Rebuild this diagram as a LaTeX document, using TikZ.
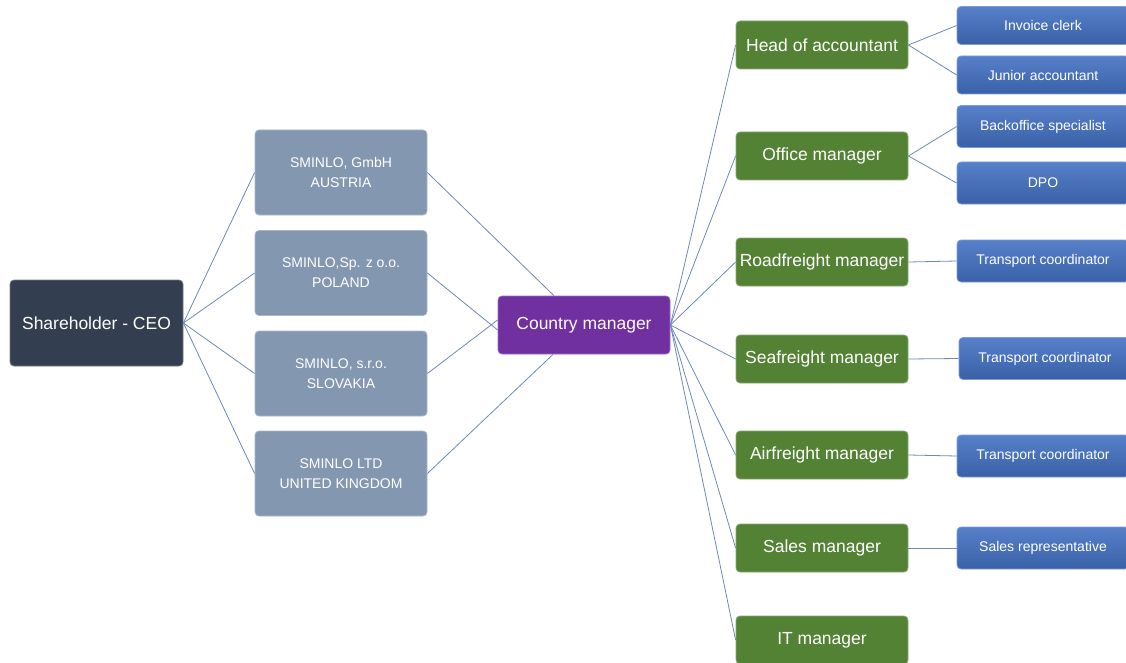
\documentclass[tikz,border=0pt]{standalone}
\usepackage{fontspec}
\setmainfont{Liberation Sans}
\usepackage{tikz}
\usetikzlibrary{positioning}

\definecolor{ceoblue}{HTML}{333F50}
\definecolor{compgray}{HTML}{8497B0}
\definecolor{cmpurple}{HTML}{7030A0}
\definecolor{mgrgreen}{HTML}{548235}
\definecolor{staffblue}{HTML}{4472C4}
\definecolor{linkblue}{HTML}{6E88BC}

\tikzset{
  box/.style={rectangle, rounded corners=4pt, inner sep=0pt, text=white, align=center},
  ceo/.style={box, fill=ceoblue, draw=ceoblue!70!white, minimum width=173pt, minimum height=86pt,
    font=\fontsize{17.5}{21}\selectfont},
  company/.style={box, fill=compgray, draw=compgray!70!white, minimum width=172pt, minimum height=85pt,
    font=\fontsize{14}{20}\selectfont},
  country/.style={box, fill=cmpurple, draw=cmpurple!70!white, minimum width=172pt, minimum height=58pt,
    font=\fontsize{17.5}{21}\selectfont},
  manager/.style={box, fill=mgrgreen, draw=mgrgreen!70!white, minimum width=172pt, minimum height=48pt,
    font=\fontsize{17.5}{21}\selectfont},
  staff/.style={box, top color=staffblue!90!white, bottom color=staffblue!85!black, draw=staffblue!70!white,
    minimum width=172pt, minimum height=42pt, font=\fontsize{14}{17}\selectfont}
}

\begin{document}
\begin{tikzpicture}[x=1pt,y=-1pt,-,line width=0.8pt,draw=linkblue]
  \useasboundingbox (0,0) rectangle (1126,663);

  % owner and companies
  \node[ceo] (CEO) at (96.5,323) {Shareholder - CEO};
  \node[company] (AT) at (341,172.5) {SMINLO, GmbH\\AUSTRIA};
  \node[company] (PL) at (341,273) {SMINLO,Sp. z o.o.\\POLAND};
  \node[company] (SK) at (341,373.5) {SMINLO, s.r.o.\\SLOVAKIA};
  \node[company] (UK) at (341,473.5) {SMINLO LTD\\UNITED KINGDOM};

  \node[country] (CM) at (584,325) {Country manager};

  % managers
  \node[manager] (HA) at (822,45) {Head of accountant};
  \node[manager] (OM) at (822,156) {Office manager};
  \node[manager] (RM) at (822,262) {Roadfreight manager};
  \node[manager] (SM) at (822,359) {Seafreight manager};
  \node[manager] (AM) at (822,455) {Airfreight manager};
  \node[manager] (SaM) at (822,548) {Sales manager};
  \node[manager] (IT) at (822,640) {IT manager};

  % staff
  \node[staff, minimum height=38pt] (IC) at (1043,25.5) {Invoice clerk};
  \node[staff, minimum height=38pt] (JA) at (1043,75) {Junior accountant};
  \node[staff] (BS) at (1043,126.5) {Backoffice specialist};
  \node[staff] (DPO) at (1043,183) {DPO};
  \node[staff] (TC1) at (1043,261) {Transport coordinator};
  \node[staff] (TC2) at (1045,358.5) {Transport coordinator};
  \node[staff] (TC3) at (1043,456) {Transport coordinator};
  \node[staff] (SR) at (1043,548) {Sales representative};

  \path
  (CEO.east) edge (AT.west)
  (CEO.east) edge (PL.west)
  (CEO.east) edge (SK.west)
  (CEO.east) edge (UK.west)
  (AT.east) edge (CM)
  (PL.east) edge ([yshift=-5pt]CM.west)
  (SK.east) edge ([yshift=5pt]CM.west)
  (UK.east) edge (CM);

  \foreach \m in {HA,OM,RM,SM,AM,SaM,IT}
    \draw (CM.east) -- (\m.west);

  \path
  (HA.east) edge (IC.west)
  (HA.east) edge (JA.west)
  (OM.east) edge (BS.west)
  (OM.east) edge (DPO.west)
  (RM.east) edge (TC1.west)
  (SM.east) edge (TC2.west)
  (AM.east) edge (TC3.west)
  (SaM.east) edge (SR.west);
\end{tikzpicture}
\end{document}
